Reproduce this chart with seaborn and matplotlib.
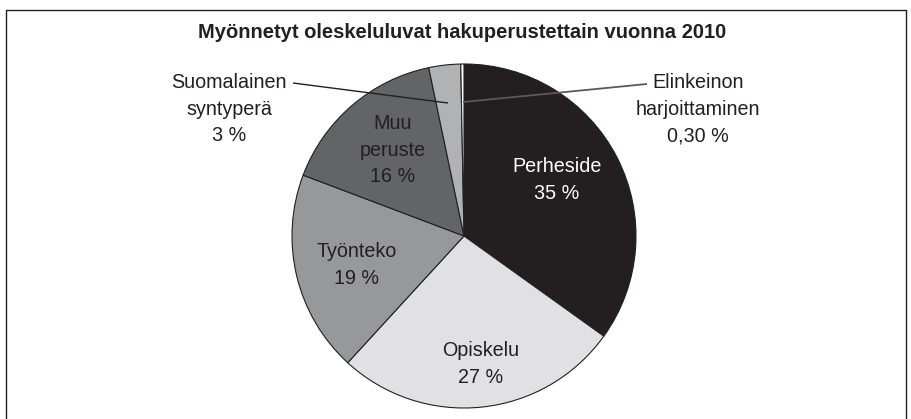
import matplotlib

matplotlib.use("Agg")
import matplotlib.pyplot as plt
import seaborn as sns
from matplotlib.lines import Line2D

# data
categories = ["Perheside", "Opiskelu", "Työnteko", "Muu peruste", "Suomalainen syntyperä", "Elinkeinon harjoittaminen"]
shares = [35, 27, 19, 16, 3, 0.3]
pct_labels = ["35 %", "27 %", "19 %", "16 %", "3 %", "0,30 %"]
label_text = ["Perheside", "Opiskelu", "Työnteko", "Muu\nperuste", "Suomalainen\nsyntyperä", "Elinkeinon\nharjoittaminen"]
title = "Myönnetyt oleskeluluvat hakuperustettain vuonna 2010"

slice_colors = ["#231f20", "#e1e1e3", "#97989a", "#636466", "#b1b2b4", "#ffffff"]
text_colors = ["white", "#231f20", "#231f20", "#231f20", "#231f20", "#231f20"]

W, H = 911, 419
CX, CY, R = 464, 236, 172  # pie centre / radius in pixels

# label anchors in pixel space (text centre), and leader lines for the small slices
label_px = [(557, 180), (481, 364), (357, 265), (393, 150), (229, 109), (698, 109)]
leaders = {4: ((293, 83), (448, 103)), 5: ((463, 102), (647, 84))}


def to_data(px, py):
    return (px - CX) / R, (CY - py) / R


sns.set_theme(style="white")
plt.rcParams["font.family"] = ["Liberation Sans", "DejaVu Sans"]

fig = plt.figure(figsize=(W / 100, H / 100), dpi=100)
ax = fig.add_axes([0, 0, 1, 1])

ax.pie(
    shares,
    colors=slice_colors,
    startangle=90,
    counterclock=False,
    radius=1.0,
    wedgeprops=dict(edgecolor="#231f20", linewidth=0.8),
)
# pie() resets the limits, so set them afterwards
ax.set_aspect("auto")
ax.set_xlim(-CX / R, (W - CX) / R)
ax.set_ylim(-(H - CY) / R, CY / R)
ax.axis("off")

for i, name in enumerate(label_text):
    x, y = to_data(*label_px[i])
    ax.text(x, y, f"{name}\n{pct_labels[i]}", ha="center", va="center",
            fontsize=14.2, color=text_colors[i], linespacing=1.52)

for i, (p0, p1) in leaders.items():
    x0, y0 = to_data(*p0)
    x1, y1 = to_data(*p1)
    ax.plot([x0, x1], [y0, y1], color="#231f20" if i == 4 else "#5a5a5a",
            lw=1.0 if i == 4 else 1.3, solid_capstyle="butt")

fig.text(462 / W, 1 - 32 / H, title, ha="center", va="center",
         fontsize=14.5, fontweight="bold", color="#231f20")

# frame: left, top, right (open at the bottom)
bx0, bx1, by = 5.5 / W, 905.5 / W, 1 - 10.5 / H
fig.lines.append(Line2D([bx0, bx0, bx1, bx1], [0, by, by, 0], transform=fig.transFigure,
                        color="#231f20", lw=1.0))

fig.savefig("out.png", dpi=100)
plt.close(fig)
